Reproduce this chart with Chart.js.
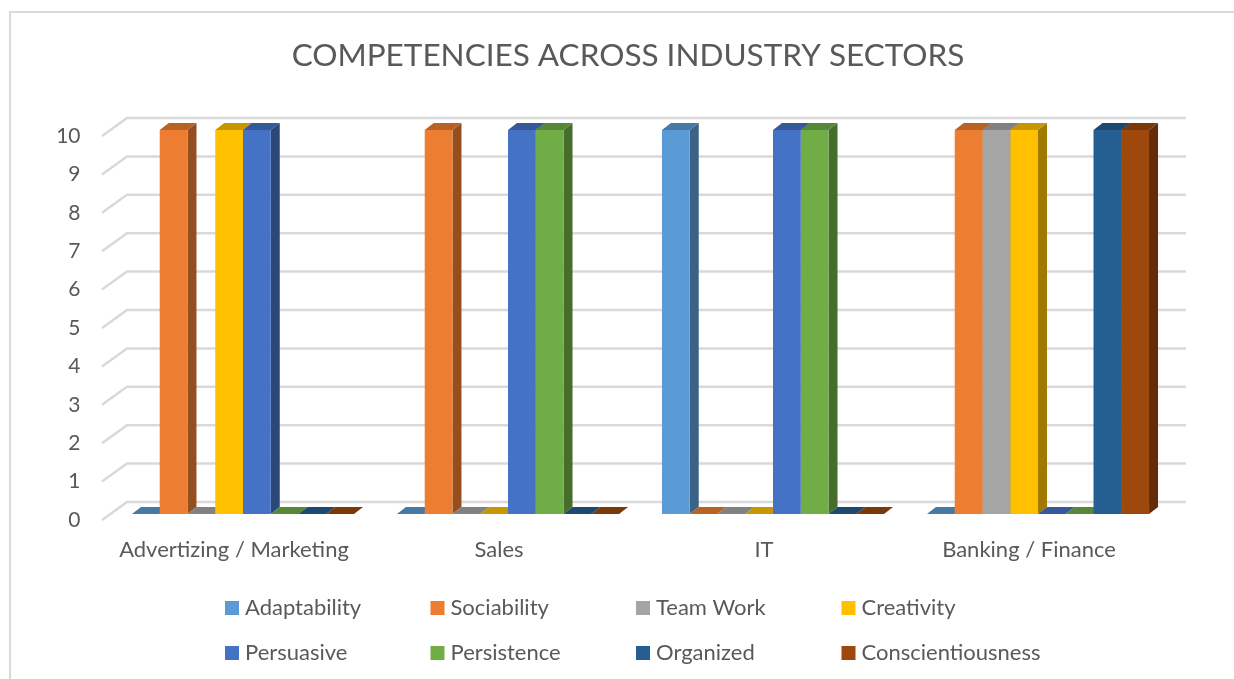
<!DOCTYPE html>
<html>
<head>
<meta charset="utf-8">
<script src="https://cdn.jsdelivr.net/npm/chart.js@4/dist/chart.umd.min.js"></script>
<style>
  html, body { margin: 0; background: #fff; overflow: hidden; }
  canvas { display: block; }
</style>
</head>
<body>
<canvas id="chart" width="1234" height="679"></canvas>
<script>
const sectors = ["Advertizing / Marketing", "Sales", "IT", "Banking / Finance"];
const yTicks = [0, 1, 2, 3, 4, 5, 6, 7, 8, 9, 10];

const adaptability = [0, 0, 10, 0];
const sociability = [10, 10, 0, 10];
const teamWork = [0, 0, 0, 10];
const creativity = [10, 0, 0, 10];
const persuasive = [10, 10, 10, 0];
const persistence = [0, 10, 10, 0];
const organized = [0, 0, 0, 10];
const conscientiousness = [0, 0, 0, 10];

const TEXT = "#595959";
const GRID = "#d9d9d9";
const FONT = "Lato, Carlito, sans-serif";

function shade(hex, k) {
    const n = parseInt(hex.slice(1), 16);
    const c = [n >> 16, (n >> 8) & 255, n & 255].map(v => Math.round(v * k));
    return `rgb(${c[0]},${c[1]},${c[2]})`;
}

function series(label, data, color) {
    return { label, data, backgroundColor: color, borderWidth: 0 };
}

// outer frame of the chart object
const framePlugin = {
    id: "frame",
    beforeDraw(chart) {
        const ctx = chart.ctx;
        ctx.save();
        ctx.fillStyle = "#fff";
        ctx.fillRect(0, 0, chart.width, chart.height);
        ctx.strokeStyle = "#d9d9d9";
        ctx.lineWidth = 2;
        ctx.beginPath();
        ctx.moveTo(10, chart.height);
        ctx.lineTo(10, 12);
        ctx.lineTo(chart.width, 12);
        ctx.stroke();
        ctx.restore();
    },
};

// back wall, floor edge and the side and top faces of the bars
const depthPlugin = {
    id: "depth",
    beforeDatasetsDraw(chart) {
        const ctx = chart.ctx;
        const y = chart.scales.y;
        ctx.save();
        ctx.strokeStyle = GRID;
        ctx.lineWidth = 2.5;
        y.ticks.forEach(t => {
            const py = y.getPixelForValue(t.value);
            ctx.beginPath();
            ctx.moveTo(102, py + 6);
            ctx.lineTo(127, py - 12);
            ctx.lineTo(1186, py - 12);
            ctx.stroke();
        });

        const dx = 9, dy = 7;
        chart.data.labels.forEach((_, i) => {
            chart.data.datasets.forEach((ds, d) => {
                const bar = chart.getDatasetMeta(d).data[i];
                const left = bar.x - bar.width / 2;
                const right = bar.x + bar.width / 2;
                // side
                if (bar.base - bar.y > 0) {
                    ctx.fillStyle = shade(ds.backgroundColor, 0.63);
                    ctx.beginPath();
                    ctx.moveTo(right, bar.base);
                    ctx.lineTo(right + dx, bar.base - dy);
                    ctx.lineTo(right + dx, bar.y - dy);
                    ctx.lineTo(right, bar.y);
                    ctx.closePath();
                    ctx.fill();
                }
                // top
                ctx.fillStyle = shade(ds.backgroundColor, 0.78);
                ctx.beginPath();
                ctx.moveTo(left, bar.y);
                ctx.lineTo(left + dx, bar.y - dy);
                ctx.lineTo(right + dx, bar.y - dy);
                ctx.lineTo(right, bar.y);
                ctx.closePath();
                ctx.fill();
            });
        });
        ctx.restore();
    },
};

// two rows of four, the columns line up so the built in legend does not fit
const legendGrid = {
    id: "legendGrid",
    afterDraw(chart) {
        const ctx = chart.ctx;
        ctx.save();
        ctx.font = `22px ${FONT}`;
        ctx.textBaseline = "middle";
        chart.data.datasets.forEach((ds, i) => {
            const x = 225 + (i % 4) * 205.5;
            const y = i < 4 ? 608 : 653;
            ctx.fillStyle = ds.backgroundColor;
            ctx.fillRect(x, y - 7, 14, 14);
            ctx.fillStyle = TEXT;
            ctx.fillText(ds.label, x + 20, y);
        });
        ctx.restore();
    },
};

new Chart(document.getElementById("chart"), {
    type: "bar",
    data: {
        labels: sectors,
        datasets: [
            series("Adaptability", adaptability, "#5B9BD5"),
            series("Sociability", sociability, "#ED7D31"),
            series("Team Work", teamWork, "#A5A5A5"),
            series("Creativity", creativity, "#FFC000"),
            series("Persuasive", persuasive, "#4472C4"),
            series("Persistence", persistence, "#70AD47"),
            series("Organized", organized, "#255E91"),
            series("Conscientiousness", conscientiousness, "#9E480E"),
        ],
    },
    plugins: [framePlugin, depthPlugin, legendGrid],
    options: {
        responsive: false,
        animation: false,
        layout: { padding: { left: 22, right: 0, top: 0, bottom: 0 } },
        datasets: { bar: { categoryPercentage: 0.838, barPercentage: 1 } },
        plugins: {
            legend: { display: false },
            tooltip: { enabled: false },
            title: {
                display: true,
                text: "COMPETENCIES ACROSS INDUSTRY SECTORS",
                color: TEXT,
                font: { family: FONT, size: 31.5, weight: "normal", lineHeight: 1.2 },
                padding: { top: 37, bottom: 55.2 },
            },
        },
        scales: {
            x: {
                grid: { display: false, drawTicks: false },
                border: { display: false },
                ticks: {
                    color: TEXT,
                    font: { family: FONT, size: 22 },
                    padding: 23,
                    labelOffset: -9,
                    maxRotation: 0,
                },
                afterFit(scale) { scale.height = 165; },
            },
            y: {
                min: 0,
                max: 10,
                afterBuildTicks(scale) { scale.ticks = yTicks.map(value => ({ value })); },
                grid: { display: false, drawTicks: false },
                border: { display: false },
                ticks: {
                    color: TEXT,
                    font: { family: FONT, size: 21 },
                    padding: 30,
                    labelOffset: 6,
                },
                afterFit(scale) { scale.width = 88.5; },
            },
            // empty axis holding the gap on the right of the plot
            gutter: {
                position: "right",
                display: true,
                grid: { display: false, drawTicks: false },
                border: { display: false },
                ticks: { display: false },
                afterFit(scale) { scale.width = 63.5; },
            },
        },
    },
});
</script>
</body>
</html>
